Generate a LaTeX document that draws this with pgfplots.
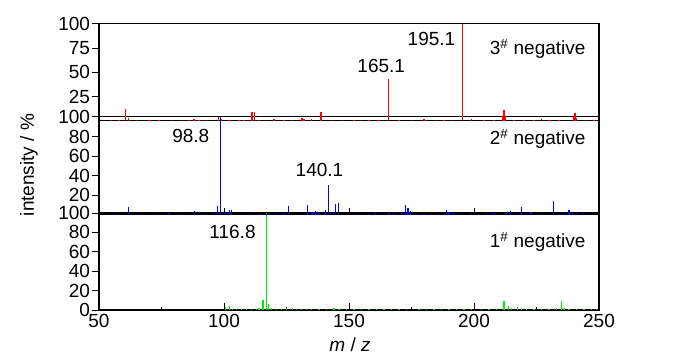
\documentclass[border=0pt]{standalone}
\usepackage{pgfplots}
\pgfplotsset{compat=1.18}
\usepackage{fontspec}
\setmainfont{Liberation Sans}
\newcommand{\bigf}{\fontsize{19}{22}\selectfont}
\pgfplotsset{panel/.style={
  scale only axis, width=500pt, xmin=50, xmax=250, ymin=0, ymax=100,
  axis line style={line width=1.1pt},
  xtick={50,100,...,250}, minor xtick={75,125,175,225},
  xtick align=inside, ytick align=outside,
  xtick pos=bottom, ytick pos=left,
  major tick length=6.5pt, minor tick length=2.5pt,
  every tick/.style={black, line width=0.9pt},
  tick label style={font=\bigf},
  /pgf/number format/assume math mode=true,
  yticklabel style={xshift=1pt},
  anchor=south west,
}}
\begin{document}
\begin{tikzpicture}[x=1pt,y=1pt]
% bottom panel
\begin{axis}[panel, at={(0,0)}, height=97pt, ytick={0,20,40,60,80,100},
  xticklabel style={yshift=-1pt}]
\addplot[ycomb, color={rgb,255:red,0;green,235;blue,0}, line width=1.1pt, mark=none] coordinates {
(100.5,3) (102.1,4) (103.5,1.5) (105,1) (107,1) (109,1) (111,1.5) (113,1) (114,2) (115.6,10) (116.9,100) (117.9,6) (119,2) (121,1.5) (123,1) (125,2) (127.5,2) (129,1.5) (131,1) (133,1) (135,1) (138,1) (141,1) (144,2) (146,1) (149,1) (152,1) (155,1) (158,1) (161,1) (164,1) (167,1) (170,1) (173,1) (178,1) (181,1) (184,1) (187,1) (190,1) (193,1) (196,1) (199,1) (203,1) (206,1) (209,1) (212,9) (213.7,4) (215,2) (217.4,3) (219,2) (221,1) (224,1) (227,1) (230,1) (233,2) (235.1,9) (236,2) (238,1) (241,1) (244,1) (247,1) (249,1)
};
\node[font=\bigf] at (axis cs:103.4,80.7) {116.8};
\node[font=\bigf, anchor=east] at (axis cs:246,70.4) {1\textsuperscript{\#} negative};
\end{axis}
% middle panel
\begin{axis}[panel, at={(0,97)}, height=98pt, ytick={20,40,60,80,100}, xticklabels={}]
\addplot[ycomb, color={rgb,255:red,0;green,0;blue,255}, line width=1.1pt, mark=none] coordinates {
(61.7,8) (56,1) (66,1) (69,1) (72,1) (78,1.5) (81,1) (83,1) (86.2,2) (88.2,4) (91,1) (93,1) (96.5,2) (97.3,9) (98.6,100) (100.5,3) (102.1,5) (103,5) (107,1) (110,1) (114,1) (118,1) (121,1) (124,2) (125.9,9) (127,1) (133.5,10) (135.2,3) (136.6,4) (138,2) (140.6,5) (141.9,31) (143,2) (144.6,11) (145.9,12) (149,1) (152,1) (155,1) (158,1) (160.6,3) (163,1) (166,1.5) (168,1) (171,1.5) (172.6,10) (173.6,7) (174.6,4) (177,1) (180,1) (183,1) (186,1) (189.1,5) (190,3) (192,2) (195,1.5) (199,1.5) (202,1) (205,2) (208,1.5) (211,1) (213,2) (214.5,4) (217,2) (219.1,8) (221,2) (222.8,3) (226,1) (229,1) (231.9,14) (234,1) (236,1) (238,5) (239.4,3) (241,2) (243.5,3) (247,1)
};
\node[font=\bigf] at (axis cs:86.7,80.6) {98.8};
\node[font=\bigf] at (axis cs:138.2,45.6) {140.1};
\node[font=\bigf, anchor=east] at (axis cs:246,77.5) {2\textsuperscript{\#} negative};
\end{axis}
% top panel
\begin{axis}[panel, at={(0,195)}, height=97pt, ytick={25,50,75,100}, xtick=\empty, minor xtick={}]
\addplot[ycomb, color={rgb,255:red,255;green,0;blue,0}, line width=1.1pt, mark=none] coordinates {
(60.5,12) (61.8,3) (55,1) (58,1) (65,1) (70,1) (74,1) (79,1) (83,1) (86,1) (88,2) (90,1) (93,1) (97.8,3.5) (99,1.5) (102,1) (106,1) (108,1) (110.9,9) (111.5,9) (112.3,9) (114,1) (117,1) (120,1.5) (124,1) (127,1) (131.2,3) (132,2) (135,1.5) (138.8,9.5) (143,1) (147,1) (152,1) (155,1) (158,1) (162,1) (165.9,43) (170,1) (175,1) (180,2) (181,1) (185,1) (188,1) (191,1) (195.4,100) (199,2) (204,1) (208,1) (211.5,5) (212,11) (212.5,5) (216,1) (220,1) (224,1) (227,2) (230,1) (234,1) (239.8,4) (240.4,8) (241,3) (245,1) (248,1)
};
\node[font=\bigf] at (axis cs:162.9,56.7) {165.1};
\node[font=\bigf] at (axis cs:183,84.8) {195.1};
\node[font=\bigf, anchor=east] at (axis cs:246,74) {3\textsuperscript{\#} negative};
\end{axis}
\node[font=\bigf, rotate=90] at (-70,145) {intensity / \%};
\node[font=\bigf] at (251,-35) {\textit{m} / \textit{z}};
\pgfresetboundingbox
\path[use as bounding box] (-99,-48) rectangle (601,310);
\end{tikzpicture}
\end{document}
